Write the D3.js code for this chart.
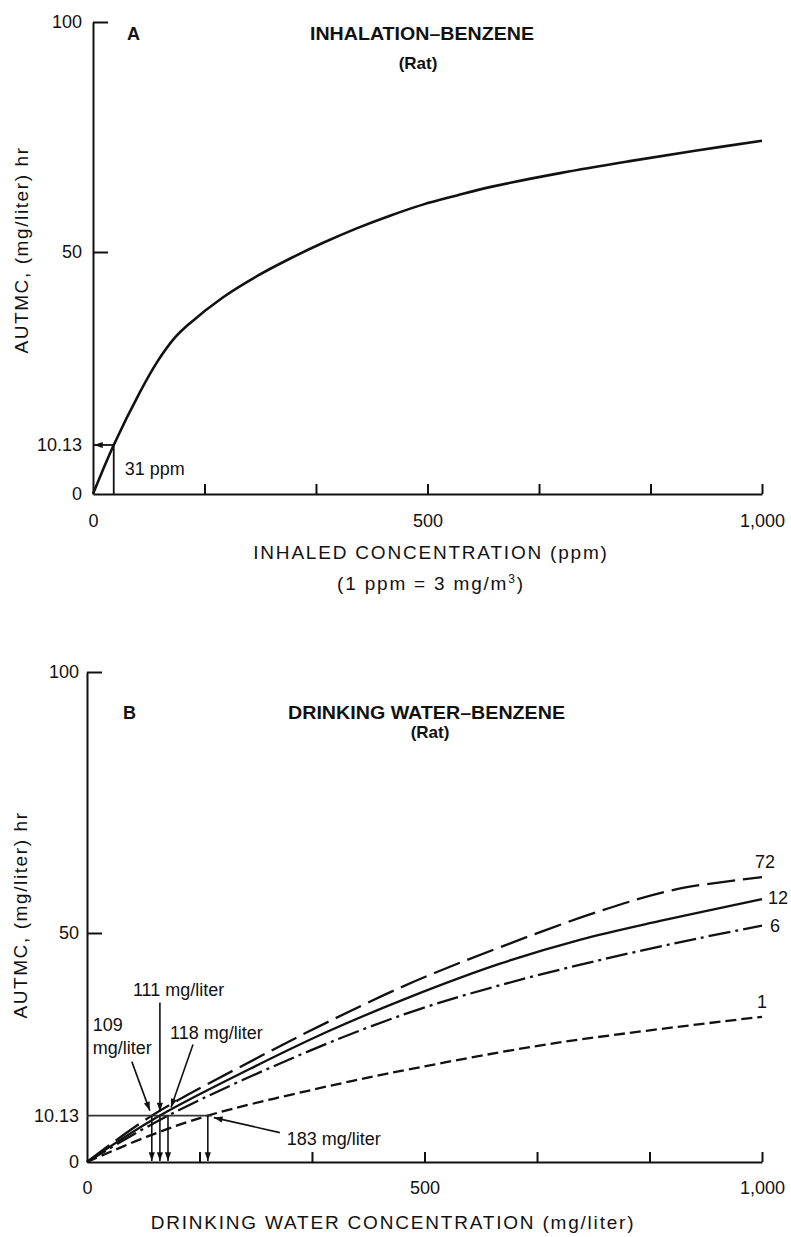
<!DOCTYPE html>
<html>
<head>
<meta charset="utf-8">
<script src="https://cdn.jsdelivr.net/npm/d3@7"></script>
<style>
  body { margin: 0; background: #fff; }
  svg { display: block; background: #fff; }
</style>
</head>
<body>
<svg id="chart" width="791" height="1237"></svg>
<script>
// ---- Data ----
const targetAutmc = 10.13;

// Panel A: inhalation, AUTMC vs inhaled concentration (ppm)
const inhaledPpm   = [0, 31, 70, 96, 123, 145, 194, 245, 294, 344, 395, 444, 493, 544, 593, 700, 800, 900, 1000];
const inhaledAutmc = [0, 10.13, 21.0, 27.3, 32.4, 35.3, 40.6, 45.0, 48.6, 52.0, 55.2, 57.9, 60.3, 62.3, 64.1, 67.2, 69.7, 72.0, 74.2];
const inhaledAtTarget = 31;

// Panel B: drinking water, one curve per exposure duration (hr)
const durations = ['72', '12', '6', '1'];
const water72 = [0, 96, 252, 360, 483, 612, 760, 874, 1000];
const autmc72 = [0, 10.13, 22.7, 30.8, 39.3, 46.9, 54.2, 58.4, 60.7];
const water12 = [0, 108, 241, 360, 478, 612, 730, 849, 1000];
const autmc12 = [0, 10.13, 20.3, 28.7, 36, 43.3, 48.5, 52.3, 56.5];
const water6  = [0, 120, 335, 483, 612, 760, 908, 1000];
const autmc6  = [0, 10.13, 24.6, 32.9, 38.6, 44.1, 48.9, 51.4];
const water1  = [0, 90, 179, 335, 483, 700, 1000];
const autmc1  = [0, 5.6, 10.13, 15.8, 20.4, 26.1, 31.7];
// where each curve meets 10.13 (as drawn) and the printed value
const waterAtTarget = [96, 108, 120, 179];
const waterTargetLabels = ['109 mg/liter', '111 mg/liter', '118 mg/liter', '183 mg/liter'];

// Axis ticks
const yTicks = [0, 10.13, 50, 100];
const xTicks = [0, 166.7, 333.3, 500, 666.7, 833.3, 1000];
const xTickLabels = ['0', '', '', '500', '', '', '1,000'];

// ---- Setup ----
const ink = '#111';
const font = '"Liberation Sans", Arial, Helvetica, sans-serif';
const svg = d3.select('#chart').attr('font-family', font);

// Arrowhead
svg.append('defs').append('marker')
  .attr('id', 'arrow')
  .attr('viewBox', '0 -4 10 8')
  .attr('refX', 10)
  .attr('refY', 0)
  .attr('markerUnits', 'userSpaceOnUse')
  .attr('markerWidth', 10)
  .attr('markerHeight', 7)
  .attr('orient', 'auto')
  .append('path')
  .attr('d', 'M0,-3.5L10,0L0,3.5Z')
  .attr('fill', ink);

// Scales (the scan is slightly uneven, so y is split at 50)
const xA = d3.scaleLinear().domain([0, 1000]).range([93, 762]);
const yA = d3.scaleLinear().domain([0, 50, 100]).range([494, 252, 22]);
const xB = d3.scaleLinear().domain([0, 1000]).range([87, 762]);
const yB = d3.scaleLinear().domain([0, 50, 100]).range([1162, 933, 672]);

function drawAxes(x, y, yPad, xPad) {
  const g = svg.append('g');

  const yAxis = d3.axisLeft(y)
    .tickValues(yTicks)
    .tickFormat(d => String(d))
    .tickSizeInner(-15)
    .tickSizeOuter(0)
    .tickPadding(yPad);
  const gy = g.append('g').attr('transform', `translate(${x(0)},0)`).call(yAxis);
  gy.selectAll('.tick line').filter(d => d < 50).remove();

  const xAxis = d3.axisBottom(x)
    .tickValues(xTicks)
    .tickFormat((d, i) => xTickLabels[i])
    .tickSizeInner(-10)
    .tickSizeOuter(0)
    .tickPadding(xPad);
  const gx = g.append('g').attr('transform', `translate(0,${y(0)})`).call(xAxis);
  gx.selectAll('.tick line').filter(d => d === 0).remove();

  g.selectAll('.domain').attr('stroke', ink).attr('stroke-width', 2);
  g.selectAll('.tick line').attr('stroke', ink).attr('stroke-width', 2);
  g.selectAll('.tick text')
    .attr('font-family', font)
    .attr('font-size', 18)
    .attr('fill', ink);
}

function text(x, y, str, opts = {}) {
  return svg.append('text')
    .attr('x', x)
    .attr('y', y)
    .attr('fill', ink)
    .attr('font-size', opts.size || 18)
    .attr('font-weight', opts.bold ? 'bold' : 'normal')
    .attr('text-anchor', opts.anchor || 'start')
    .style('letter-spacing', opts.spacing ? opts.spacing + 'px' : null)
    .text(str);
}

function yLabel(cx, cy) {
  svg.append('text')
    .attr('transform', `translate(${cx},${cy}) rotate(-90)`)
    .attr('text-anchor', 'middle')
    .attr('fill', ink)
    .attr('font-size', 19)
    .style('letter-spacing', '1.6px')
    .text('AUTMC, (mg/liter) hr');
}

const smooth = d3.curveCatmullRom.alpha(0.5);

// ---- Panel A ----
drawAxes(xA, yA, 11, 20);

text(127, 40, 'A', { bold: true });
text(310, 40, 'INHALATION\u2013BENZENE', { bold: true }).attr('textLength', 224).attr('lengthAdjust', 'spacingAndGlyphs');
text(418, 69, '(Rat)', { bold: true, size: 17, anchor: 'middle' });
yLabel(28, 250);

const ptsA = inhaledPpm.map((v, i) => [v, inhaledAutmc[i]]);
svg.append('path')
  .datum(ptsA)
  .attr('fill', 'none')
  .attr('stroke', ink)
  .attr('stroke-width', 2.6)
  .attr('stroke-linejoin', 'round')
  .attr('d', d3.line().x(d => xA(d[0])).y(d => yA(d[1])).curve(smooth));

// 10.13 guide lines
svg.append('line')
  .attr('x1', xA(inhaledAtTarget)).attr('y1', yA(targetAutmc))
  .attr('x2', xA(0) + 1).attr('y2', yA(targetAutmc))
  .attr('stroke', ink).attr('stroke-width', 1.8)
  .attr('marker-end', 'url(#arrow)');
svg.append('line')
  .attr('x1', xA(inhaledAtTarget)).attr('y1', yA(targetAutmc))
  .attr('x2', xA(inhaledAtTarget)).attr('y2', yA(0))
  .attr('stroke', ink).attr('stroke-width', 1.8);
text(xA(inhaledAtTarget) + 11, yA(targetAutmc) + 30, inhaledAtTarget + ' ppm');

text(431, 559, 'INHALED CONCENTRATION (ppm)', { size: 19, anchor: 'middle', spacing: 1.8 });
const sub = text(431, 590, '(1 ppm = 3 mg/m', { size: 19, anchor: 'middle', spacing: 1.8 });
sub.append('tspan').attr('font-size', 12).attr('dy', -7).text('3');
sub.append('tspan').attr('dy', 7).text(')');

// ---- Panel B ----
drawAxes(xB, yB, 8, 19);

text(123, 719, 'B', { bold: true });
text(288, 719, 'DRINKING WATER\u2013BENZENE', { bold: true }).attr('textLength', 277).attr('lengthAdjust', 'spacingAndGlyphs');
text(430, 738, '(Rat)', { bold: true, size: 17, anchor: 'middle' });
yLabel(27, 915);

const seriesB = [
  { name: durations[0], x: water72, y: autmc72, dash: '28,8' },
  { name: durations[1], x: water12, y: autmc12, dash: null },
  { name: durations[2], x: water6, y: autmc6, dash: '22,5,3,5' },
  { name: durations[3], x: water1, y: autmc1, dash: '11,5' }
];
const labelOffset = { '72': [-7, -9], '12': [6, 5], '6': [8, 6], '1': [-5, -9] };

const lineB = d3.line().x(d => xB(d[0])).y(d => yB(d[1])).curve(smooth);
seriesB.forEach(s => {
  const pts = s.x.map((v, i) => [v, s.y[i]]);
  svg.append('path')
    .datum(pts)
    .attr('fill', 'none')
    .attr('stroke', ink)
    .attr('stroke-width', 2.3)
    .attr('stroke-dasharray', s.dash)
    .attr('d', lineB);
  const last = pts[pts.length - 1];
  const off = labelOffset[s.name];
  text(xB(last[0]) + off[0], yB(last[1]) + off[1], s.name);
});

// 10.13 level and drop lines to the x axis
const yT = yB(targetAutmc);
svg.append('line')
  .attr('x1', xB(0)).attr('x2', xB(waterAtTarget[3]) + 4)
  .attr('y1', yT).attr('y2', yT)
  .attr('stroke', '#333').attr('stroke-width', 1.6);
waterAtTarget.forEach(v => {
  svg.append('line')
    .attr('x1', xB(v)).attr('x2', xB(v))
    .attr('y1', yT).attr('y2', yB(0) - 1)
    .attr('stroke', ink).attr('stroke-width', 1.6)
    .attr('marker-end', 'url(#arrow)');
});

// Callouts: leader start / end offsets and text offsets from each crossing point
const callouts = [
  { from: [-20, -54], to: [-2, -5], lines: ['109', 'mg/liter'], at: [-59, -85] },
  { from: [0, -113], to: [0, -4], lines: [waterTargetLabels[1]], at: [-27, -120] },
  { from: [25, -71], to: [3, -8], lines: [waterTargetLabels[2]], at: [2, -77] },
  { from: [72, 17], to: [6, 2], lines: [waterTargetLabels[3]], at: [79, 29] }
];
callouts.forEach((c, i) => {
  const px = xB(waterAtTarget[i]);
  svg.append('line')
    .attr('x1', px + c.from[0]).attr('y1', yT + c.from[1])
    .attr('x2', px + c.to[0]).attr('y2', yT + c.to[1])
    .attr('stroke', ink).attr('stroke-width', 1.6)
    .attr('marker-end', 'url(#arrow)');
  c.lines.forEach((ln, j) => text(px + c.at[0], yT + c.at[1] + j * 23, ln));
});

text(393, 1229, 'DRINKING WATER CONCENTRATION (mg/liter)', { size: 19, anchor: 'middle', spacing: 1.8 });
</script>
</body>
</html>
